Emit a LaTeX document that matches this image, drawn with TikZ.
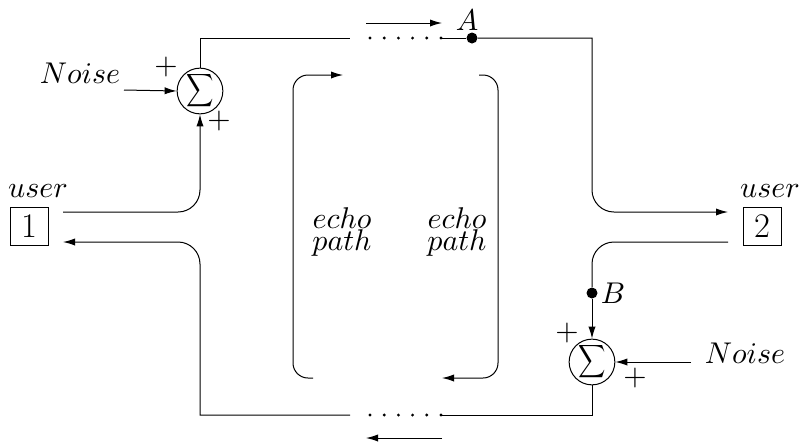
\documentclass[tikz,border=0pt]{standalone}
\usetikzlibrary{arrows.meta}
\begin{document}
\begin{tikzpicture}[x=0.5pt,y=-0.5pt,
  wire/.style={line width=0.5pt},
  arr/.style={wire,-{Latex[length=6pt,width=3.6pt]}},
  txt/.style={font=\fontsize{10}{12}\selectfont,inner sep=0pt,scale=1.5,transform shape},
  echotxt/.style={txt,align=center,font={\fontsize{10}{7.4}\selectfont\lineskiplimit=-20pt\relax}},
  sumnode/.style={draw,circle,line width=0.5pt,minimum size=22pt,inner sep=0pt,font=\fontsize{10}{12}\selectfont},
  userbox/.style={draw,line width=0.5pt,minimum size=19pt,inner sep=0pt,font=\fontsize{16.5}{19}\selectfont},
  dotmark/.style={circle,fill,inner sep=0pt,minimum size=1.6pt},
  tap/.style={circle,fill,inner sep=0pt,minimum size=5.5pt},
  rc/.style={rounded corners=11pt}]
\useasboundingbox (0,0) rectangle (800,441);

% summing junctions
\newcommand{\sumglyph}{\raisebox{-1pt}{\scalebox{0.95}[1.15]{$\displaystyle\sum$}}}
\node[sumnode] (s1) at (200,91) {\sumglyph};
\node[sumnode] (s2) at (592,362) {\sumglyph};

% user boxes
\node[userbox] (u1) at (29,226) {$1$};
\node[userbox] (u2) at (762,226) {$2$};
\node[txt,anchor=base] (lu1) at (38,197) {$user$};
\node[txt,anchor=base] (lu2) at (770,197) {$user$};

% taps
\node[tap] (A) at (472,38) {};
\node[txt] (lA) at (467,20) {$A$};
\node[tap] (B) at (592,293) {};
\node[txt] (lB) at (613,293) {$B$};

% noise
\node[txt,anchor=base] (n1) at (80,83) {$Noise$};
\node[txt,anchor=base] (n2) at (745,363) {$Noise$};
\coordinate (n1s) at (124,90);
\coordinate (n2s) at (691,362);
\draw[arr] (n1s) -- (s1.west);
\draw[arr] (n2s) -- (s2.east);

% plus signs
\node[txt] (p1) at (166,67) {$+$};
\node[txt] (p2) at (219,121) {$+$};
\node[txt] (p3) at (567,333) {$+$};
\node[txt] (p4) at (635,378) {$+$};

% dotted gaps
\foreach \i in {0,...,5} {
  \node[dotmark] (dt\i) at (370+14.2*\i,38) {};
  \node[dotmark] (db\i) at (370+14.2*\i,415) {};
}
\coordinate (tl) at (350,38);
\coordinate (bl) at (350,415);

% top path
\draw[wire] (s1.north) |- (tl);
\draw[wire] (dt5.center) -- (A);
\coordinate (u2in) at (728,212);
\draw[arr] (A) -- (592,38) [rc] -- (592,212) -- (u2in);
\coordinate (ta1) at (366,23);
\coordinate (ta2) at (442,23);
\draw[arr] (ta1) -- (ta2);

% left user wires
\coordinate (u1out) at (63,212);
\coordinate (u1in) at (63,242);
\draw[arr,rc] (u1out) -- (200,212) -- (s1.south);
\draw[arr] (bl) -- (200,415) [rc] -- (200,242) -- (u1in);

% right lower wires
\coordinate (u2out) at (728,242);
\draw[wire,rc] (u2out) -- (592,242) -- (B);
\draw[arr] (B) -- (s2.north);
\draw[wire] (s2.south) |- (db5.center);
\coordinate (ba1) at (442,438);
\coordinate (ba2) at (366,438);
\draw[arr] (ba1) -- (ba2);

% echo brackets
\draw[arr,rounded corners=7.5pt] (313,378) -- (293,378) -- (293,75) -- (343,75);
\draw[arr,rounded corners=7.5pt] (479,75) -- (498,75) -- (498,378) -- (442,378);

% echo labels
\node[echotxt] (e1) at (342,232) {$echo$\\$path$};
\node[echotxt] (e2) at (457,232) {$echo$\\$path$};
\end{tikzpicture}
\end{document}
